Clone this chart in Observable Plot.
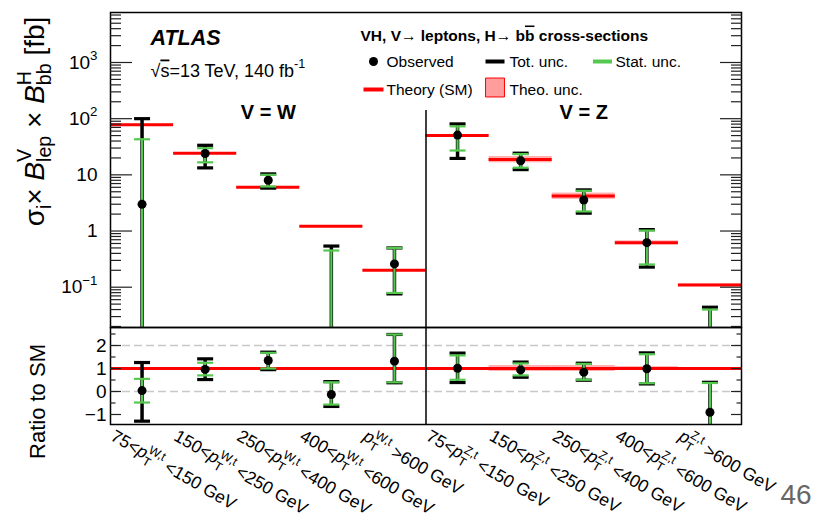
<!DOCTYPE html>
<html><head><meta charset="utf-8">
<script src="https://cdn.jsdelivr.net/npm/d3@7"></script>
<script src="https://cdn.jsdelivr.net/npm/@observablehq/plot@0.6"></script>
<style>
html,body{margin:0;padding:0;background:#fff;}
#wrap{position:relative;width:815px;height:514px;overflow:hidden;font-family:"Liberation Sans",Arial,Helvetica,sans-serif;color:#000;}
#wrap svg{position:absolute;left:0;overflow:visible;}
</style></head><body><div id="wrap"></div>
<script>
// ---------------- data ----------------
const xLabels = [
  "75<#it{p}_{T}^{W,t} <150 GeV", "150<#it{p}_{T}^{W,t} <250 GeV", "250<#it{p}_{T}^{W,t} <400 GeV",
  "400<#it{p}_{T}^{W,t} <600 GeV", "#it{p}_{T}^{W,t} >600 GeV",
  "75<#it{p}_{T}^{Z,t} <150 GeV", "150<#it{p}_{T}^{Z,t} <250 GeV", "250<#it{p}_{T}^{Z,t} <400 GeV",
  "400<#it{p}_{T}^{Z,t} <600 GeV", "#it{p}_{T}^{Z,t} >600 GeV"
];
// cross-sections [fb]; null = below zero (not visible on log scale)
const theory   = [78, 24.3, 6.0, 1.21, 0.20, 50, 18.8, 4.2, 0.62, 0.11];
const theoUnc  = [0.02, 0.02, 0.02, 0.02, 0.02, 0.04, 0.13, 0.13, 0.08, 0.04];
const observed = [3.0, 24, 8.0, null, 0.26, 51, 17.8, 3.56, 0.62, null];
const totHi    = [100, 33.6, 10.4, 0.54, 0.50, 80.7, 24.3, 5.4, 1.06, 0.044];
const totLo    = [null, 13.3, 5.8, null, 0.076, 19.6, 12.4, 2.08, 0.228, null];
const statHi   = [43, 29.8, 10.0, 0.45, 0.50, 73, 23.4, 5.2, 1.02, 0.040];
const statLo   = [null, 16.7, 6.2, null, 0.079, 27.1, 13.4, 2.23, 0.254, null];
// ratio to SM; null = beyond the lower edge
const rObs     = [0.04, 0.96, 1.35, -0.13, 1.32, 1.01, 0.94, 0.84, 0.99, -0.9];
const rTotHi   = [1.26, 1.42, 1.71, 0.43, 2.48, 1.67, 1.28, 1.23, 1.68, 0.40];
const rTotLo   = [-1.29, 0.52, 0.95, -0.65, 0.38, 0.39, 0.62, 0.49, 0.33, null];
const rStatHi  = [0.55, 1.25, 1.68, 0.40, 2.48, 1.57, 1.22, 1.20, 1.62, 0.37];
const rStatLo  = [-0.48, 0.70, 1.00, -0.57, 0.40, 0.51, 0.70, 0.51, 0.36, null];
const yMajor = [0.1, 1, 10, 100, 1000];
const yMajorLabels = ["10^{−1}", "1", "10", "10^{2}", "10^{3}"];
const rMajor = [-1, 0, 1, 2];
const rMajorLabels = ["−1", "0", "1", "2"];
const rMinor = [-0.5, 0.5, 1.5, 2.5];
const rGrid = [0, 2];

// ---------------- style ----------------
const FONT = '"Liberation Sans", Arial, Helvetica, sans-serif';
const GREEN = "#55c850", RED = "#ff0000", PINK = "#ff9c9c";
const yDom = [0.01917, 7762];
const rDom = [-1.435, 2.783];
const idx = d3.range(10);
const yMinor = [];
for (let k = -2; k <= 3; k++) for (let m = 2; m <= 9; m++) { const v = m * 10 ** k; if (v > yDom[0] && v < yDom[1]) yMinor.push(v); }
const cap = {draw(ctx, size) { const r = Math.sqrt(size / Math.PI); ctx.moveTo(-r, 0); ctx.lineTo(r, 0); }};
const mid = i => i + 0.5;

function bars(tHi, tLo, sHi, sLo, obs, bottom) {
  const ok = a => idx.filter(i => a[i] != null);
  const low = a => i => a[i] == null ? bottom : a[i];
  return [
    Plot.ruleX(idx, {x: mid, y1: low(tLo), y2: i => tHi[i], stroke: "#000", strokeWidth: 3.5}),
    Plot.dot(ok(tHi), {x: mid, y: i => tHi[i], symbol: cap, r: 8, stroke: "#000", strokeWidth: 3.2, fill: "none"}),
    Plot.dot(ok(tLo), {x: mid, y: i => tLo[i], symbol: cap, r: 8, stroke: "#000", strokeWidth: 3.2, fill: "none"}),
    Plot.ruleX(idx, {x: mid, y1: low(sLo), y2: i => sHi[i], stroke: GREEN, strokeWidth: 2.2}),
    Plot.dot(ok(sHi), {x: mid, y: i => sHi[i], symbol: cap, r: 8, stroke: GREEN, strokeWidth: 2.2, fill: "none"}),
    Plot.dot(ok(sLo), {x: mid, y: i => sLo[i], symbol: cap, r: 8, stroke: GREEN, strokeWidth: 2.2, fill: "none"}),
    Plot.dot(ok(obs), {x: mid, y: i => obs[i], r: 4.5, fill: "#000", stroke: "none"})
  ];
}

const tickStyle = {stroke: "#222", strokeWidth: 1.2, fill: "none", label: null};
const TL = {frameAnchor: "top-left", textAnchor: "start", lineAnchor: "bottom", fontSize: 15.5, text: d => d};

const main = Plot.plot({
  width: 815, height: 327,
  marginLeft: 110, marginRight: 74, marginTop: 12, marginBottom: 0,
  x: {domain: [0, 10], axis: null},
  y: {type: "log", domain: yDom, axis: null},
  style: {fontFamily: FONT, background: "transparent", color: "#000"},
  marks: [
    Plot.rect(idx, {x1: i => i, x2: i => i + 1, y1: i => theory[i] * (1 - theoUnc[i]), y2: i => theory[i] * (1 + theoUnc[i]), fill: PINK, fillOpacity: 0.8}),
    Plot.ruleY(idx, {x1: i => i, x2: i => i + 1, y: i => theory[i], stroke: RED, strokeWidth: 3}),
    Plot.ruleX([5], {y1: 139.8, y2: yDom[0], stroke: "#000", strokeWidth: 1.5}),
    ...bars(totHi, totLo, statHi, statLo, observed, yDom[0]),
    Plot.frame({stroke: "#000", strokeWidth: 1.5}),
    Plot.axisY({anchor: "left", ticks: yMajor, tickSize: -22, ...tickStyle}),
    Plot.axisY({anchor: "left", ticks: yMinor, tickSize: -11, ...tickStyle}),
    Plot.axisY({anchor: "right", ticks: yMajor, tickSize: -22, ...tickStyle}),
    Plot.axisY({anchor: "right", ticks: yMinor, tickSize: -11, ...tickStyle}),
    Plot.axisY({anchor: "left", ticks: yMajor, tickSize: 0, tickPadding: 13, tickFormat: (d) => yMajorLabels[yMajor.indexOf(d)], fontSize: 19, label: null}),
    Plot.text(["σ_{i}× #it{B}_{lep}^{V} × #it{B}_{bb}^{H} [fb]"], {frameAnchor: "left", text: d => d, rotate: -90, textAnchor: "middle", lineAnchor: "bottom", dx: -67, dy: -48.5, fontSize: 28}),
    Plot.text(["V = W", "V = Z"], {x: [2.5, 7.5], text: d => d, frameAnchor: "top", lineAnchor: "bottom", dy: 106, fontSize: 20, fontWeight: "bold"}),
    Plot.text(["ATLAS"], {...TL, dx: 40, dy: 32, fontSize: 21.5, fontWeight: "bold", fontStyle: "italic"}),
    Plot.text(["√#bar{s}=13 TeV, 140 fb^{-1}"], {...TL, dx: 40, dy: 64, fontSize: 18}),
    Plot.text(["VH, V→ leptons, H→ b#bar{b} cross-sections"], {...TL, dx: 250, dy: 28, fontWeight: "bold"}),
    Plot.dot([0], {frameAnchor: "top-left", dx: 263, dy: 49, r: 4.5, fill: "#000"}),
    Plot.text(["Observed"], {...TL, dx: 276, dy: 54}),
    Plot.dot([0], {frameAnchor: "top-left", dx: 384.5, dy: 49, symbol: cap, r: 9.5, stroke: "#000", strokeWidth: 4}),
    Plot.text(["Tot. unc."], {...TL, dx: 399, dy: 54}),
    Plot.dot([0], {frameAnchor: "top-left", dx: 492, dy: 49, symbol: cap, r: 9.5, stroke: GREEN, strokeWidth: 4}),
    Plot.text(["Stat. unc."], {...TL, dx: 505, dy: 54}),
    Plot.dot([0], {frameAnchor: "top-left", dx: 263, dy: 77, symbol: cap, r: 10, stroke: RED, strokeWidth: 4}),
    Plot.text(["Theory (SM)"], {...TL, dx: 276, dy: 82}),
    Plot.dot([0], {frameAnchor: "top-left", dx: 384.5, dy: 75, symbol: "square", r: 10.7, fill: PINK, stroke: RED, strokeWidth: 1}),
    Plot.text(["Theo. unc."], {...TL, dx: 399, dy: 82})
  ]
});

const ratio = Plot.plot({
  width: 815, height: 187,
  marginLeft: 110, marginRight: 74, marginTop: 0, marginBottom: 90,
  x: {domain: [0, 10], axis: null},
  y: {domain: rDom, axis: null},
  style: {fontFamily: FONT, background: "transparent", color: "#000"},
  marks: [
    Plot.ruleY(rGrid, {stroke: "#c8c8c8", strokeWidth: 1.5, strokeDasharray: "8,4"}),
    Plot.rect(idx, {x1: i => i, x2: i => i + 1, y1: i => 1 - theoUnc[i], y2: i => 1 + theoUnc[i], fill: PINK, fillOpacity: 0.8}),
    Plot.ruleY([1], {stroke: RED, strokeWidth: 3}),
    Plot.ruleX([5], {stroke: "#000", strokeWidth: 1.5}),
    ...bars(rTotHi, rTotLo, rStatHi, rStatLo, rObs, rDom[0]),
    Plot.frame({stroke: "#000", strokeWidth: 1.5}),
    Plot.axisY({anchor: "left", ticks: rMajor, tickSize: -11, ...tickStyle}),
    Plot.axisY({anchor: "left", ticks: rMinor, tickSize: -5.5, ...tickStyle}),
    Plot.axisY({anchor: "right", ticks: rMajor, tickSize: -11, ...tickStyle}),
    Plot.axisY({anchor: "right", ticks: rMinor, tickSize: -5.5, ...tickStyle}),
    Plot.axisY({anchor: "left", ticks: rMajor, tickSize: 0, tickPadding: 4, tickFormat: d => rMajorLabels[rMajor.indexOf(d)], fontSize: 19, label: null}),
    Plot.axisX({anchor: "bottom", ticks: idx.map(mid), tickSize: 0, tickPadding: 0, tickFormat: d => xLabels[Math.floor(d)], tickRotate: 30, textAnchor: "start", lineAnchor: "bottom", dx: -32.5, dy: 15, fontSize: 17.5, label: null}),
    Plot.text(["Ratio to SM"], {frameAnchor: "left", text: d => d, rotate: -90, textAnchor: "middle", lineAnchor: "bottom", dx: -66, dy: 25.5, fontSize: 22}),
    Plot.text(["46"], {frameAnchor: "bottom-right", text: d => d, textAnchor: "start", lineAnchor: "bottom", dx: 39, dy: 79, fontSize: 28, fill: "#666"})
  ]
});

const wrap = document.getElementById("wrap");
main.style.top = "0px";
ratio.style.top = "327px";
wrap.appendChild(main);
wrap.appendChild(ratio);

// ------------- rich text (sub/superscripts) -------------
const NS = "http://www.w3.org/2000/svg";
function parseRich(s) {
  const segs = []; let buf = ""; let i = 0;
  const flush = () => { if (buf) { segs.push({t: buf, k: "n"}); buf = ""; } };
  while (i < s.length) {
    const m = /^(_|\^|#it|#bar)\{/.exec(s.slice(i));
    if (m) {
      flush();
      let j = i + m[0].length, depth = 1; const start = j;
      while (j < s.length && depth) { if (s[j] === "{") depth++; else if (s[j] === "}") depth--; j++; }
      segs.push({t: s.slice(start, j - 1), k: {"_": "sub", "^": "sup", "#it": "it", "#bar": "bar"}[m[1]]});
      i = j;
    } else { buf += s[i++]; }
  }
  flush();
  return segs;
}
function richify(el) {
  const s = el.textContent;
  if (!/(_|\^|#it|#bar)\{/.test(s)) return;
  const fs = parseFloat(getComputedStyle(el).fontSize);
  const segs = parseRich(s);
  el.textContent = "";
  let off = 0, prev = null, extra = 0;
  for (const seg of segs) {
    const t = document.createElementNS(NS, "tspan");
    t.textContent = seg.t;
    let target = 0;
    if (seg.k === "sub") { target = 0.28 * fs; t.setAttribute("font-size", 0.7 * fs); }
    if (seg.k === "sup") { target = -0.45 * fs; t.setAttribute("font-size", 0.7 * fs); }
    if (seg.k === "it") t.setAttribute("font-style", "italic");
    if (seg.k === "bar") t.setAttribute("text-decoration", "overline");
    let dx = 0;
    if (seg.k === "sup" && prev && prev.k === "sub") dx = -prev.w;
    else if (extra) { dx = extra; extra = 0; }
    const dy = target - off; off = target;
    if (dy) t.setAttribute("dy", dy);
    if (dx) t.setAttribute("dx", dx);
    el.appendChild(t);
    const w = t.getComputedTextLength();
    if (seg.k === "sup" && prev && prev.k === "sub") extra = Math.max(0, prev.w - w);
    prev = {k: seg.k, w};
  }
}
wrap.querySelectorAll("text").forEach(richify);
</script></body></html>
